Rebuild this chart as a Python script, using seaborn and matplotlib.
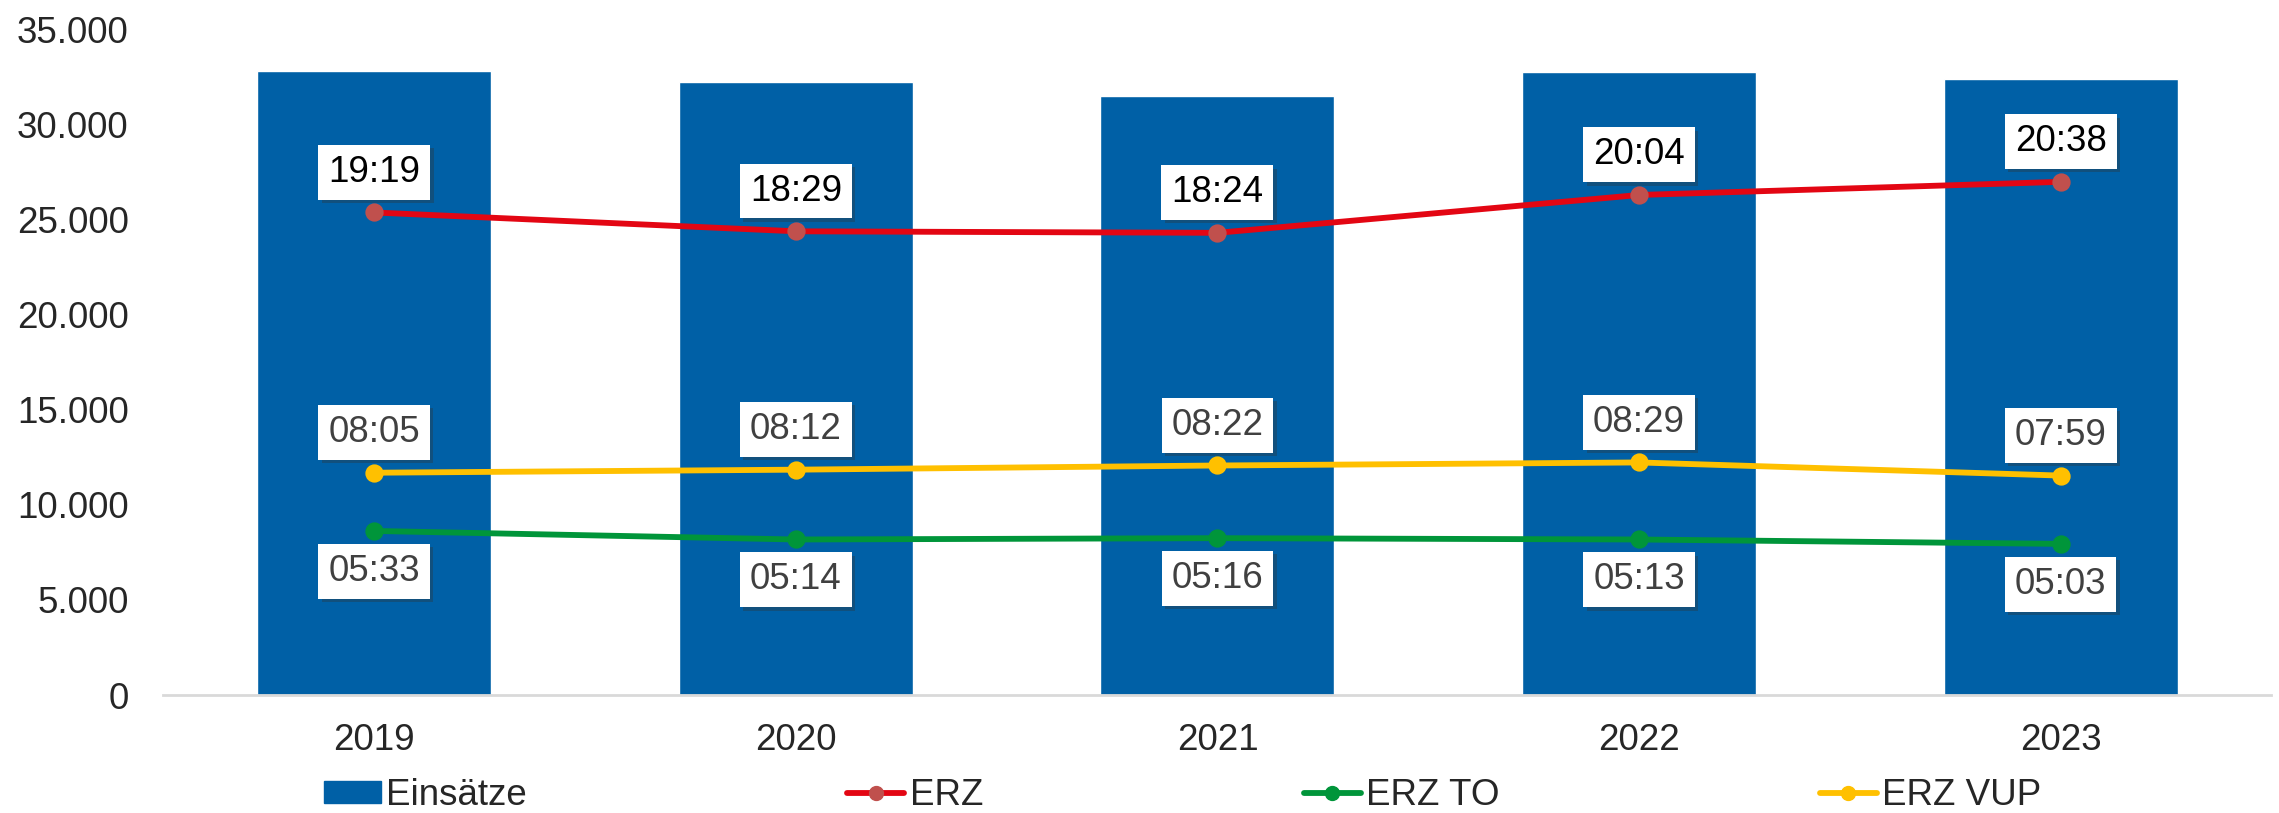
import matplotlib
matplotlib.use("Agg")
import matplotlib.pyplot as plt
import matplotlib.patheffects as pe
from matplotlib.patches import Patch
from matplotlib.lines import Line2D
from matplotlib.ticker import FuncFormatter
import seaborn as sns

# data
years = ["2019", "2020", "2021", "2022", "2023"]
einsaetze = [32800, 32250, 31480, 32780, 32400]
erz = [25370, 24380, 24300, 26290, 26980]
erz_to = [8630, 8180, 8250, 8180, 7950]
erz_vup = [11690, 11850, 12070, 12230, 11540]
erz_lbl = ["19:19", "18:29", "18:24", "20:04", "20:38"]
erz_to_lbl = ["05:33", "05:14", "05:16", "05:13", "05:03"]
erz_vup_lbl = ["08:05", "08:12", "08:22", "08:29", "07:59"]

BLUE = "#0060A6"
RED = "#E30613"
RED_MK = "#C0504D"
GREEN = "#00953A"
YELLOW = "#FFC000"

sns.set_style("white")
plt.rcParams["font.family"] = ["Liberation Sans", "DejaVu Sans"]

fig = plt.figure(figsize=(22.79, 8.13), dpi=100)
ax = fig.add_axes([0.0717, 0.145, 0.925, 0.819])

sns.barplot(x=years, y=einsaetze, color=BLUE, width=0.555, saturation=1, ax=ax)

lw, ms = 4.2, 10
sns.pointplot(x=years, y=erz, color=RED, markers="o", linewidth=lw, markersize=ms,
              markerfacecolor=RED_MK, markeredgecolor=RED_MK, errorbar=None, ax=ax)
sns.pointplot(x=years, y=erz_to, color=GREEN, markers="o", linewidth=lw, markersize=ms,
              errorbar=None, ax=ax)
sns.pointplot(x=years, y=erz_vup, color=YELLOW, markers="o", linewidth=lw, markersize=ms,
              errorbar=None, ax=ax)


def label(vals, texts, dy, col):
    for i, (v, t) in enumerate(zip(vals, texts)):
        a = ax.annotate(t, (i, v), xytext=(0, dy), textcoords="offset points",
                        ha="center", va="center", fontsize=26.5, color=col,
                        bbox=dict(boxstyle="square,pad=0.27", fc="white", ec="none"),
                        zorder=10)
        a.get_bbox_patch().set_path_effects(
            [pe.SimplePatchShadow(offset=(2.5, -2.5), shadow_rgbFace="#333333", alpha=0.35),
             pe.Normal()])


label(erz, erz_lbl, 29, "black")
label(erz_vup, erz_vup_lbl, 29, "#404040")
label(erz_to, erz_to_lbl, -29, "#404040")

ax.set_xlim(-0.5, 4.5)
ax.set_ylim(0, 35000)
ax.set_yticks(range(0, 35001, 5000))
ax.yaxis.set_major_formatter(FuncFormatter(lambda v, p: f"{int(v):,}".replace(",", ".")))
ax.tick_params(axis="y", length=0, pad=25, labelsize=26.5)
ax.tick_params(axis="x", length=0, pad=20, labelsize=26.5)
ax.set_xlabel("")
ax.set_ylabel("")
for s in ["top", "right", "left"]:
    ax.spines[s].set_visible(False)
ax.spines["bottom"].set_color("#D9D9D9")
ax.spines["bottom"].set_linewidth(2)

handles = [
    Patch(color=BLUE, label="Einsätze"),
    Line2D([], [], color=RED, lw=lw, marker="o", ms=ms, mfc=RED_MK, mec=RED_MK, label="ERZ"),
    Line2D([], [], color=GREEN, lw=lw, marker="o", ms=ms, label="ERZ TO"),
    Line2D([], [], color=YELLOW, lw=lw, marker="o", ms=ms, label="ERZ VUP"),
]
fig.legend(handles=handles, loc="center", bbox_to_anchor=(0.519, 0.022), ncol=4,
           frameon=False, fontsize=26.5, handlelength=1.55, handletextpad=0.15,
           columnspacing=8.7, handleheight=0.55)

fig.savefig("out.png", dpi=100)
